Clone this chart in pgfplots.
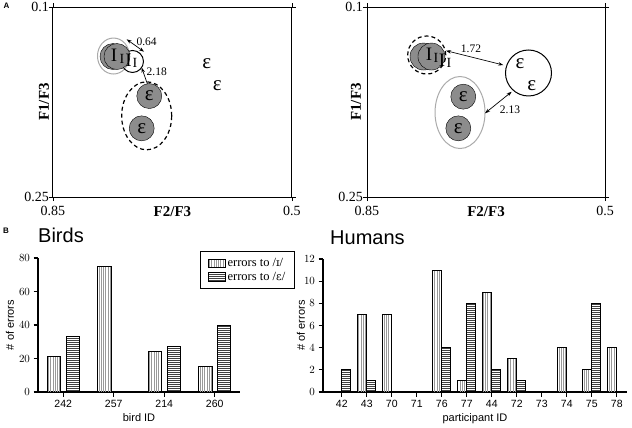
\documentclass[border=0pt]{standalone}
\usepackage{fontspec}
\setmainfont{Liberation Serif}
\newfontfamily\arial{Liberation Sans}
\newfontfamily\ipa{DejaVu Serif}
\usepackage{pgfplots}
\pgfplotsset{compat=1.18}
\usetikzlibrary{patterns.meta, arrows.meta}

\newcommand\fs[1]{\fontsize{#1}{#1}\selectfont}
\protected\def\bI{{\fs{19}I}}
\protected\def\sI{{\fs{14}I}}
\protected\def\eps{{\fs{21}ε}}

\definecolor{blob}{RGB}{140,140,140}
\definecolor{lightring}{RGB}{170,170,170}

\pgfplotsset{
  scat/.style={anchor=south west, scale only axis, width=239pt, height=190pt,
    xmin=0.5, xmax=0.85, ymin=0.1, ymax=0.25, x dir=reverse, y dir=reverse,
    xtick={0.85,0.5}, xticklabels={0.85,0.5}, ytick={0.1,0.25}, yticklabels={0.1,0.25},
    tick align=outside, major tick length=4pt, tick style={black, line width=0.8pt},
    axis line style={line width=1pt},
    ticklabel style={font=\fs{14}, inner sep=0pt},
    xticklabel style={yshift=-4.5pt},
    xlabel={F2/F3}, ylabel={F1/F3},
    label style={font=\fs{15}\bfseries},
    xlabel style={at={(axis description cs:0.5,0)}, anchor=center, yshift=-15pt},
    ylabel style={at={(axis description cs:0,0.5)}, anchor=center},
  },
  letters/.style={only marks, mark=*, mark size=0.1pt, mark options={draw=none, fill=none},
    point meta=explicit symbolic, nodes near coords,
    every node near coord/.append style={anchor=center, inner sep=0pt}},
  blobs/.style={only marks, mark=*, mark size=#1, mark options={fill=blob, draw=none}},
  dist/.style={<->, >={Stealth[length=5pt, width=3.5pt]}, line width=0.7pt, black},
  bars/.style={anchor=south west, scale only axis, ybar,
    axis x line=bottom, axis y line=left, axis line style={-, line width=1.3pt, black},
    tick align=outside, major tick length=4.5pt, tick style={black, line width=1.2pt},
    ticklabel style={font=\arial\fs{10.5}},
    label style={font=\arial\fs{11}},
    xlabel style={at={(axis description cs:0.5,0)}, anchor=base, yshift=-29pt},
    ylabel style={at={(axis description cs:0,0.5)}, anchor=center},
    title style={at={(axis description cs:0,1)}, anchor=base west, inner sep=0pt, font=\arial\fs{20}},
  },
  ipaBar/.style={draw=black, line width=1pt, pattern={Lines[angle=90, distance=2.3pt, line width=0.7pt]}, pattern color=gray!80},
  epsBar/.style={draw=black, line width=1pt, pattern={Lines[angle=0, distance=2pt, line width=0.9pt]}, pattern color=black!75},
}

\begin{document}
\begin{tikzpicture}
\path[use as bounding box] (0pt,0pt) rectangle (632pt,-428pt);

\node[font=\arial\bfseries\fs{8}] at (6.5pt,-5.5pt) {A};
\node[font=\arial\bfseries\fs{8}] at (6pt,-231pt) {B};

% ---------- left scatter ----------
\begin{axis}[scat, at={(53pt,-197pt)}, ylabel style={yshift=9pt}]
\addplot[blobs=13pt] coordinates {(0.7621,0.1391) (0.7563,0.1391)};
\addplot[blobs=12.5pt] coordinates {(0.7090,0.1703) (0.7201,0.1958)};
\draw[lightring, line width=1pt] (axis cs:0.7614,0.1387) ellipse [x radius=16pt, y radius=18pt];
\draw[black, line width=1pt] (axis cs:0.7336,0.1430) circle [radius=11pt];
\draw[black, line width=1.2pt, dash pattern=on 4pt off 3pt] (axis cs:0.7128,0.1859) ellipse [x radius=25pt, y radius=34pt];
\addplot[letters] coordinates {
 (0.7607,0.1379) [\bI] (0.7490,0.1411) [\sI]
 (0.7394,0.1418) [\bI] (0.7299,0.1442) [\sI]
 (0.7090,0.1703) [\eps] (0.7201,0.1958) [\eps]
 (0.6249,0.1445) [\eps] (0.6094,0.1624) [\eps]
};
\addplot[dist] coordinates {(0.7421,0.1255) (0.7167,0.1353)};
\addplot[dist] coordinates {(0.7201,0.1479) (0.7090,0.1650)};
\node[font=\fs{11.5}] at (axis cs:0.7128,0.1276) {0.64};
\node[font=\fs{11.5}] at (axis cs:0.6981,0.1513) {2.18};
\end{axis}

% ---------- right scatter ----------
\begin{axis}[scat, at={(367pt,-197pt)}, width=238pt, ylabel style={yshift=11pt}]
\addplot[blobs=13.5pt] coordinates {(0.7669,0.1391) (0.7552,0.1391)};
\addplot[blobs=12.5pt] coordinates {(0.7084,0.1708) (0.7157,0.1958)};
\draw[black, line width=1.2pt, dash pattern=on 4pt off 3pt] (axis cs:0.7622,0.1379) circle [radius=19pt];
\draw[lightring, line width=1pt] (axis cs:0.7132,0.1833) ellipse [x radius=25pt, y radius=36pt];
\draw[black, line width=1pt] (axis cs:0.6125,0.1521) circle [radius=23pt];
\addplot[letters] coordinates {
 (0.7588,0.1375) [\bI] (0.7485,0.1403) [\sI]
 (0.7397,0.1418) [\bI] (0.7294,0.1442) [\sI]
 (0.7084,0.1708) [\eps] (0.7157,0.1958) [\eps]
 (0.6250,0.1450) [\eps] (0.6078,0.1624) [\eps]
};
\addplot[dist] coordinates {(0.7338,0.1345) (0.6496,0.1458)};
\addplot[dist] coordinates {(0.6765,0.1839) (0.6372,0.1669)};
\node[font=\fs{11.5}] at (axis cs:0.6971,0.1326) {1.72};
\node[font=\fs{11.5}] at (axis cs:0.6397,0.1808) {2.13};
\end{axis}

% ---------- Birds ----------
\begin{axis}[bars, at={(38pt,-392pt)}, width=202pt, height=134pt,
  xmin=-0.5, xmax=3.5, ymin=0, ymax=80, ytick={0,20,40,60,80},
  xtick={0,1,2,3}, xticklabels={242,257,214,260}, bar width=13.3pt,
  xlabel={bird ID}, ylabel={\# of errors}, ylabel style={yshift=28pt},
  title={Birds}, title style={yshift=10pt},
  legend style={at={(axis description cs:0.802,1.055)}, anchor=north west, draw=black, line width=1.3pt,
    font=\fs{12.5}, inner xsep=7pt, inner ysep=5pt, row sep=0pt, cells={anchor=west}},
  legend image code/.code={\draw[#1, line width=0.9pt] (0pt,-4.2pt) rectangle (17pt,4.2pt);},
]
\addplot[ipaBar, bar shift=-9.3pt] coordinates {(0,21) (1,75) (2,24) (3,15)};
\addplot[epsBar, bar shift=9.5pt] coordinates {(0,33) (1,0) (2,27) (3,40)};
\legend{errors to /{\ipa\fs{11}ɪ}/, errors to /{\ipa\fs{11}ɛ}/}
\end{axis}

% ---------- Humans ----------
\begin{axis}[bars, at={(323pt,-392pt)}, width=304pt, height=133pt,
  xmin=-0.75, xmax=11.41, ymin=0, ymax=12, ytick={0,2,4,6,8,10,12},
  xtick={0,1,2,3,4,5,6,7,8,9,10,11}, xticklabels={42,43,70,71,76,77,44,72,73,74,75,78},
  bar width=9pt,
  xlabel={participant ID}, ylabel={\# of errors}, ylabel style={yshift=22pt},
  title={Humans}, title style={yshift=9pt, xshift=7pt},
]
\addplot[ipaBar, bar shift=-4.5pt] coordinates {(0,0) (1,7) (2,7) (3,0) (4,11) (5,1) (6,9) (7,3) (8,0) (9,4) (10,2) (11,4)};
\addplot[epsBar, bar shift=4.5pt] coordinates {(0,2) (1,1) (2,0) (3,0) (4,4) (5,8) (6,2) (7,1) (8,0) (9,0) (10,8) (11,0)};
\end{axis}
\end{tikzpicture}
\end{document}
